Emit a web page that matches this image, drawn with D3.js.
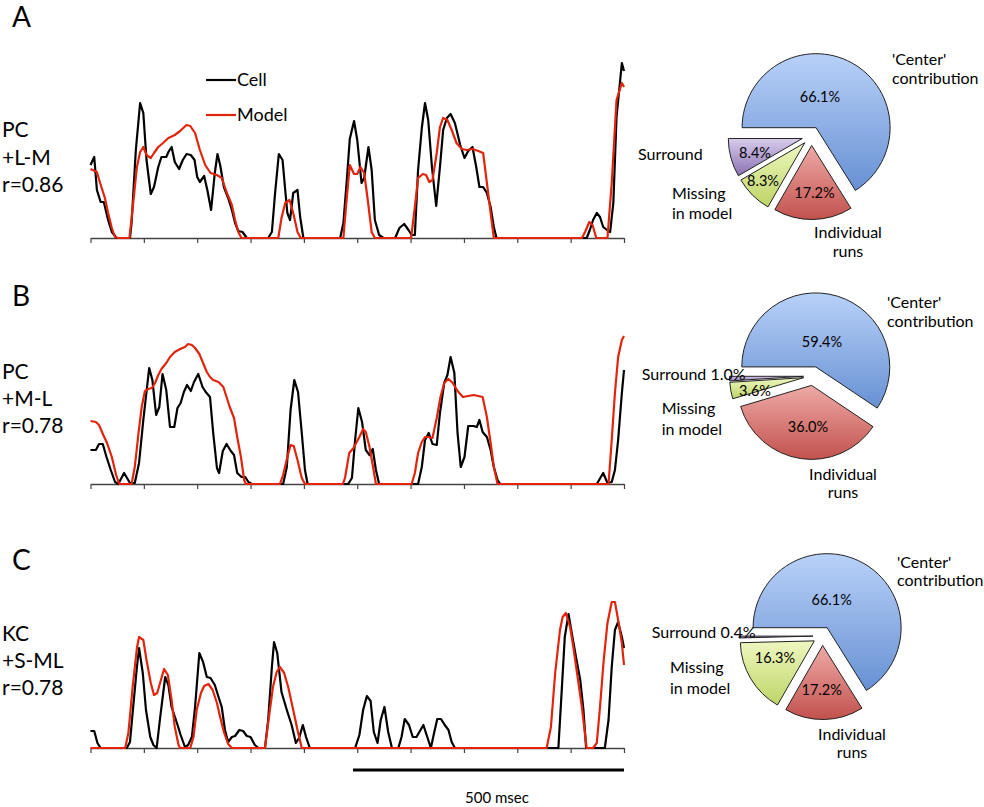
<!DOCTYPE html>
<html><head><meta charset="utf-8">
<script src="https://cdn.jsdelivr.net/npm/d3@7"></script>
<style>body{margin:0;background:#fff}svg{display:block;font-family:Lato,'Open Sans',sans-serif}</style>
</head><body><svg id="c" width="984" height="807"></svg>
<script>
// ---------- DATA ----------
const timeTicks = [0,100,200,300,400,500,600,700,800,900,1000];   // msec
const scaleBarMs = [492, 1000];
const scaleBarLabel = "500 msec";
const seriesNames = ["Cell", "Model"];
const panelLetters = ["A", "B", "C"];
const cellTypes = ["PC", "PC", "KC"];
const coneInputs = ["+L-M", "+M-L", "+S-ML"];
const correlations = [0.86, 0.78, 0.78];

// [time (msec), response]
const cellA = [[0,73],[7,81],[12,48],[19,36],[25,36],[33,18],[40,6],[49,0],[74,0],[77,15],[85,88],[93,135],[99,125],[105,78],[113,44],[119,51],[127,71],[133,81],[142,81],[146,86],[152,91],[158,76],[166,69],[173,78],[180,84],[188,83],[195,78],[200,61],[205,56],[213,62],[219,48],[226,28],[233,65],[238,84],[243,73],[250,51],[258,40],[265,28],[271,15],[277,7],[285,6],[293,0],[333,0],[340,6],[346,45],[353,84],[360,78],[365,48],[369,25],[374,18],[380,45],[388,48],[393,21],[399,0],[468,0],[474,15],[480,55],[486,99],[494,117],[500,98],[508,55],[513,60],[521,91],[527,68],[533,18],[541,3],[549,0],[571,0],[579,10],[588,14],[596,8],[602,3],[608,3],[614,68],[621,110],[627,135],[633,118],[640,71],[648,32],[655,71],[661,108],[668,120],[675,124],[683,115],[693,93],[701,80],[708,87],[716,91],[723,71],[729,51],[736,51],[743,45],[750,31],[756,11],[761,0],[930,0],[936,8],[942,18],[949,25],[955,21],[961,11],[968,8],[974,6],[980,35],[986,121],[996,175],[1000,167]];
const modelA = [[0,69],[12,66],[18,55],[27,40],[33,25],[40,10],[46,1],[52,0],[73,0],[80,35],[87,71],[93,86],[99,91],[105,83],[113,80],[119,85],[127,91],[136,95],[146,100],[158,103],[168,107],[180,113],[187,112],[196,105],[205,88],[215,73],[225,65],[237,63],[246,60],[255,46],[265,33],[271,18],[277,6],[283,0],[352,0],[358,20],[365,35],[373,38],[380,25],[388,6],[394,0],[474,0],[480,38],[486,73],[494,64],[500,64],[506,71],[513,65],[519,41],[527,6],[533,0],[601,0],[608,31],[614,60],[623,64],[629,63],[635,56],[641,58],[649,85],[655,111],[661,120],[669,118],[677,108],[686,95],[696,89],[705,88],[716,89],[727,87],[736,85],[743,55],[750,25],[756,0],[921,0],[927,6],[935,16],[941,13],[948,0],[969,0],[977,55],[986,138],[996,155],[1000,151]];
const cellB = [[0,34],[10,34],[16,40],[23,40],[30,27],[38,14],[46,2],[52,0],[63,11],[74,1],[83,1],[91,21],[99,64],[110,116],[116,104],[123,69],[129,77],[135,110],[142,94],[149,57],[157,57],[163,76],[169,81],[175,92],[181,99],[188,93],[194,102],[202,110],[210,97],[216,92],[224,87],[230,51],[237,16],[241,11],[248,33],[255,40],[263,33],[269,29],[275,11],[283,7],[290,7],[296,2],[302,0],[361,0],[368,17],[375,74],[382,104],[389,92],[396,51],[402,14],[407,0],[483,0],[490,6],[496,44],[502,76],[509,62],[516,34],[523,29],[529,35],[535,14],[541,0],[614,0],[621,17],[627,44],[634,51],[641,40],[649,39],[655,71],[663,101],[669,109],[675,127],[682,111],[688,51],[694,17],[701,27],[708,58],[718,58],[724,57],[729,64],[735,52],[743,47],[750,34],[756,17],[763,4],[768,0],[949,0],[961,11],[969,1],[977,2],[983,14],[989,44],[996,91],[1000,114]];
const modelB = [[0,63],[10,62],[16,59],[24,49],[31,41],[40,27],[48,9],[54,0],[77,0],[83,17],[90,51],[96,77],[102,93],[108,95],[115,96],[121,101],[127,109],[133,115],[142,121],[149,127],[158,132],[168,135],[177,137],[183,140],[190,139],[196,136],[204,130],[211,121],[218,112],[224,107],[230,104],[240,102],[249,97],[255,87],[261,77],[269,66],[275,47],[282,27],[288,4],[291,0],[355,0],[361,9],[369,27],[375,39],[381,38],[388,24],[396,6],[402,0],[473,0],[477,6],[485,31],[493,36],[504,47],[511,55],[516,52],[523,37],[529,19],[535,0],[602,0],[608,11],[614,31],[621,42],[627,47],[633,47],[641,46],[649,66],[656,87],[663,101],[671,105],[679,101],[688,93],[698,87],[708,88],[718,89],[727,88],[735,87],[743,67],[750,41],[756,17],[763,0],[971,0],[977,44],[983,91],[989,127],[996,144],[1000,148]];
const cellC = [[0,17],[7,17],[13,5],[19,0],[68,0],[74,6],[80,41],[87,81],[91,100],[98,75],[104,38],[112,11],[118,3],[124,0],[130,28],[140,71],[146,63],[152,41],[162,25],[169,13],[177,1],[183,3],[190,11],[196,41],[204,95],[211,86],[218,71],[225,70],[233,63],[240,51],[246,41],[252,18],[258,6],[265,11],[271,12],[279,18],[286,17],[293,12],[300,11],[308,3],[315,0],[327,0],[333,28],[340,81],[344,106],[350,95],[358,56],[368,38],[377,23],[385,5],[391,10],[398,23],[404,11],[411,0],[496,0],[504,13],[511,38],[518,52],[525,47],[531,16],[538,5],[544,28],[551,41],[558,16],[565,0],[577,0],[583,11],[589,29],[597,23],[604,11],[611,11],[624,23],[630,13],[638,0],[644,15],[650,29],[657,29],[664,23],[671,18],[677,6],[683,0],[877,0],[883,55],[889,111],[896,134],[902,115],[910,91],[918,68],[924,38],[929,0],[964,0],[971,28],[977,81],[983,118],[989,126],[996,111],[1000,100]];
const modelC = [[0,0],[65,0],[71,15],[79,61],[87,100],[91,111],[99,108],[105,88],[113,65],[119,53],[125,55],[132,68],[138,79],[145,73],[152,48],[158,21],[165,3],[168,0],[187,0],[193,11],[199,38],[207,55],[213,62],[221,64],[229,58],[237,45],[243,31],[250,16],[258,4],[265,0],[327,0],[333,25],[342,61],[349,76],[355,81],[363,75],[371,60],[380,38],[388,18],[396,0],[855,0],[863,21],[871,75],[880,118],[885,131],[891,135],[899,121],[905,101],[912,75],[921,41],[930,0],[942,0],[949,5],[955,41],[962,88],[969,125],[977,146],[983,146],[989,128],[996,105],[1000,83]];

// pie data (percent), order: Center, Individual runs, Missing in model, Surround
const pieCategories = ["'Center' contribution", "Individual runs", "Missing in model", "Surround"];
const pieA = [66.1, 17.2, 8.3, 8.4];
const pieB = [59.4, 36.0, 3.6, 1.0];
const pieC = [66.1, 17.2, 16.3, 0.4];

// ---------- LAYOUT / STYLE ----------
const W = 984, H = 807;
const svg = d3.select("#c");
svg.append("rect").attr("width", W).attr("height", H).attr("fill", "#fff");

const x = d3.scaleLinear().domain([0, 1000]).range([90.5, 624]);
const traceH = 180;
const panels = [
  {cell: cellA, model: modelA, base: 238, letterY: 27, textY: [137, 165, 192]},
  {cell: cellB, model: modelB, base: 484, letterY: 306, textY: [379, 406, 433]},
  {cell: cellC, model: modelC, base: 748, letterY: 570, textY: [641, 668, 695]}
];
const RED = "#e3240c";

panels.forEach((p, i) => {
  const y = d3.scaleLinear().domain([0, 180]).range([p.base, p.base - traceH]);
  const g = svg.append("g");
  const ax = g.append("g").attr("transform", `translate(0,${p.base})`)
    .call(d3.axisBottom(x).tickValues(timeTicks).tickSize(5).tickSizeOuter(0).tickFormat(""));
  ax.select(".domain").attr("stroke", "#444").attr("stroke-width", 1.5);
  ax.selectAll(".tick line").attr("stroke", "#444").attr("stroke-width", 1.2);
  const line = d3.line().x(d => x(d[0])).y(d => y(d[1]));
  g.append("path").datum(p.cell).attr("d", line).attr("fill", "none")
    .attr("stroke", "#000").attr("stroke-width", 2.2).attr("stroke-linejoin", "round");
  g.append("path").datum(p.model).attr("d", line).attr("fill", "none")
    .attr("stroke", RED).attr("stroke-width", 2.2).attr("stroke-linejoin", "round");
  svg.append("text").attr("x", 12).attr("y", p.letterY).attr("font-size", 28).text(panelLetters[i]);
  const lab = [cellTypes[i], coneInputs[i], "r=" + d3.format(".2f")(correlations[i])];
  lab.forEach((t, k) => svg.append("text").attr("x", 2).attr("y", p.textY[k]).attr("font-size", 21).text(t));
});

// legend
[["#000", 80], [RED, 115]].forEach((d, k) => {
  svg.append("line").attr("x1", 206).attr("x2", 236).attr("y1", d[1]).attr("y2", d[1])
    .attr("stroke", d[0]).attr("stroke-width", 2.2);
  svg.append("text").attr("x", 237).attr("y", d[1] + 6).attr("font-size", 18).text(seriesNames[k]);
});

// scale bar
svg.append("line").attr("x1", x(scaleBarMs[0])).attr("x2", x(scaleBarMs[1]))
  .attr("y1", 770).attr("y2", 770).attr("stroke", "#000").attr("stroke-width", 3);
svg.append("text").attr("x", 497).attr("y", 803).attr("text-anchor", "middle")
  .attr("font-size", 15).text(scaleBarLabel);

// ---------- PIES ----------
const defs = svg.append("defs");
const grads = [["blue", "#b8d1f8", "#6790d3"], ["red", "#eeaaa7", "#c2514d"],
               ["green", "#eff7c0", "#bdd466"], ["purple", "#d8ccec", "#8a71b2"]];
grads.forEach(g => {
  const lg = defs.append("linearGradient").attr("id", "g-" + g[0])
    .attr("x1", 0).attr("y1", 0).attr("x2", 0).attr("y2", 1);
  lg.append("stop").attr("offset", "0%").attr("stop-color", g[1]);
  lg.append("stop").attr("offset", "100%").attr("stop-color", g[2]);
});

const pieGen = d3.pie().sort(null).startAngle(-Math.PI / 2).endAngle(3 * Math.PI / 2);
const R = 74, EXPLODE = 9.5;
const arc = d3.arc().innerRadius(0).outerRadius(R);
const fmt = v => d3.format(".1f")(v) + "%";

const pies = [
  {vals: pieA, cx: 811.5, cy: 136,
   pct: [[820, 102], [814.5, 197.7], [763, 186], [755, 157.7]],
   center: [892, 65, 83.5], indiv: [848, 238, 256.7], missing: [672, 198.5, 219], surround: [638, 160, false]},
  {vals: pieB, cx: 813, cy: 376,
   pct: [[822, 346.7], [808, 431.7], [755, 396], null],
   center: [887, 308, 326.7], indiv: [843, 480, 498], missing: [661.7, 414.3, 434.7], surround: [641.7, 380, true]},
  {vals: pieC, cx: 822.5, cy: 636,
   pct: [[831.7, 605], [821.7, 695], [775, 663.3], null],
   center: [897, 568, 586], indiv: [852, 740, 758], missing: [670, 673, 693.5], surround: [651.7, 638, true]}
];

pies.forEach(p => {
  const g = svg.append("g").attr("transform", `translate(${p.cx},${p.cy})`);
  const arcs = pieGen(p.vals);
  arcs.forEach((a, k) => {
    const mid = (a.startAngle + a.endAngle) / 2;
    g.append("path").attr("d", arc(a))
      .attr("transform", `translate(${EXPLODE * Math.sin(mid)},${-EXPLODE * Math.cos(mid)})`)
      .attr("fill", `url(#g-${grads[k][0]})`).attr("stroke", "#222").attr("stroke-width", 1);
  });
  p.pct.forEach((pos, k) => {
    if (!pos) return;
    svg.append("text").attr("x", pos[0]).attr("y", pos[1]).attr("text-anchor", "middle")
      .attr("font-size", 14.5).text(fmt(p.vals[k]));
  });
  const cat = pieCategories.map(s => s.split(" "));
  svg.append("text").attr("x", p.center[0]).attr("y", p.center[1]).attr("font-size", 16).text(cat[0][0]);
  svg.append("text").attr("x", p.center[0]).attr("y", p.center[2]).attr("font-size", 16).text(cat[0][1]);
  svg.append("text").attr("x", p.indiv[0]).attr("y", p.indiv[1]).attr("font-size", 16).attr("text-anchor", "middle").text(cat[1][0]);
  svg.append("text").attr("x", p.indiv[0]).attr("y", p.indiv[2]).attr("font-size", 16).attr("text-anchor", "middle").text(cat[1][1]);
  svg.append("text").attr("x", p.missing[0]).attr("y", p.missing[1]).attr("font-size", 16).text(cat[2][0]);
  svg.append("text").attr("x", p.missing[0]).attr("y", p.missing[2]).attr("font-size", 16).text(cat[2][1] + " " + cat[2][2]);
  svg.append("text").attr("x", p.surround[0]).attr("y", p.surround[1]).attr("font-size", 16)
    .text(cat[3][0] + (p.surround[2] ? " " + fmt(p.vals[3]) : ""));
});
</script></body></html>
